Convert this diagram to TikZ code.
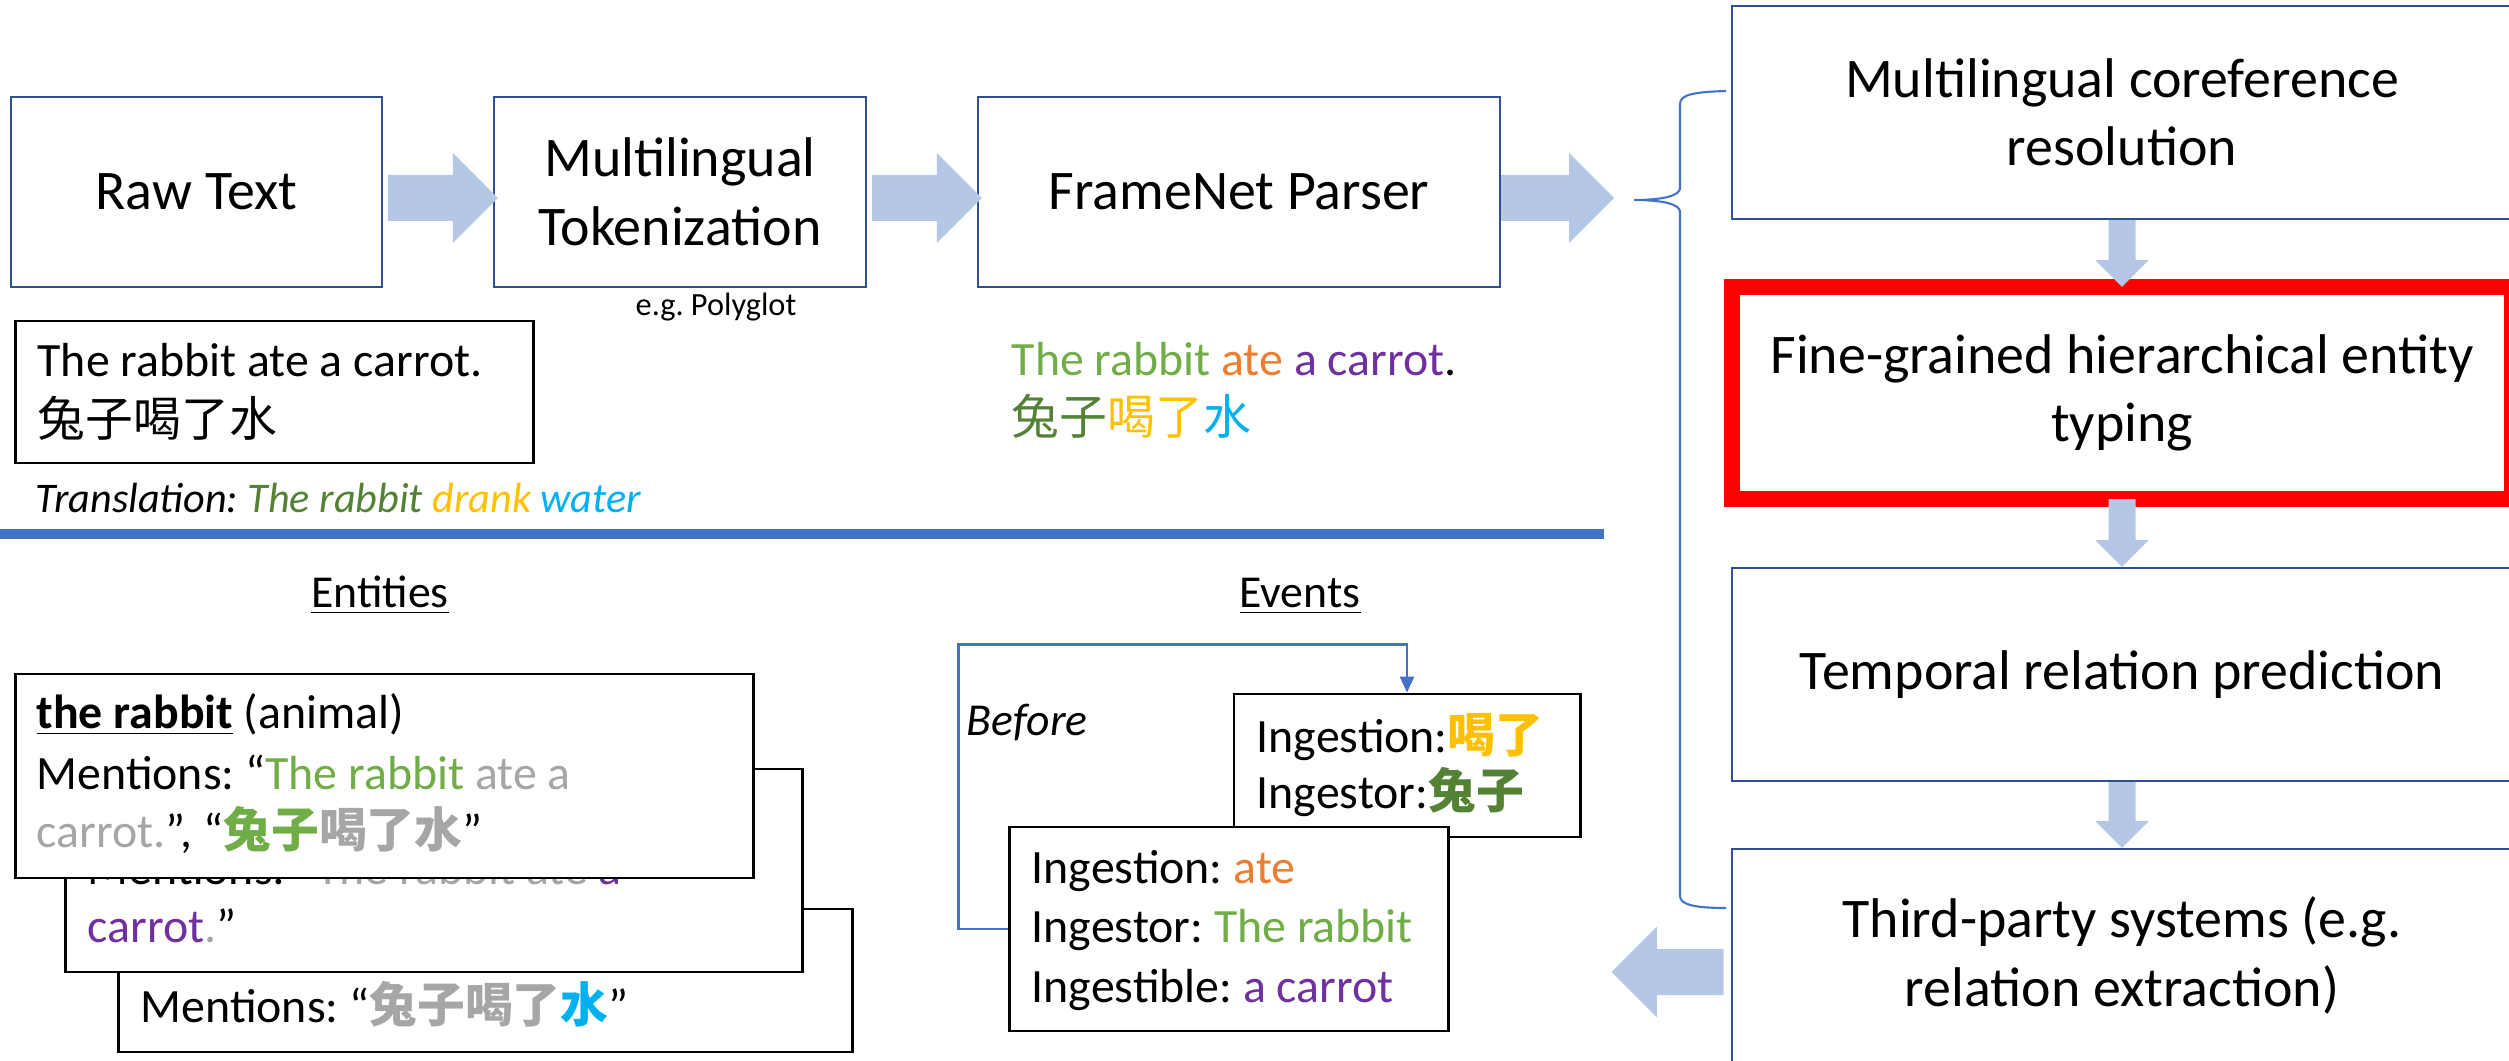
\documentclass[tikz,border=0pt]{standalone}
\usepackage{fontspec}
\setmainfont{Carlito}
\newfontfamily\cjk{Noto Sans CJK SC}
\usetikzlibrary{calc,arrows.meta}
\definecolor{cborder}{RGB}{47,82,143}
\definecolor{cfill}{RGB}{180,199,231}
\definecolor{cblue}{RGB}{68,114,196}
\definecolor{cgreen}{RGB}{112,173,71}
\definecolor{cdgreen}{RGB}{84,130,53}
\definecolor{corange}{RGB}{237,125,49}
\definecolor{cpurple}{RGB}{112,48,160}
\definecolor{cgold}{RGB}{255,192,0}
\definecolor{ccyan}{RGB}{0,176,240}
\definecolor{cgrey}{RGB}{166,166,166}
\definecolor{cred}{RGB}{255,0,0}
\newcommand\szbox{\fontsize{15.9pt}{19.5pt}\selectfont}
\newcommand\szmid{\fontsize{13.6pt}{17pt}\selectfont}
\newcommand\szsmall{\fontsize{9.2pt}{11pt}\selectfont}
\newcommand\sztr{\fontsize{12pt}{14pt}\selectfont}
\newcommand\szhead{\fontsize{13pt}{15pt}\selectfont}
\frenchspacing
% horizontal block arrow from #1 to tip #2
\newcommand\blockH[2]{\fill[cfill] let \p1=(#1), \p2=(#2), \n1={ifthenelse(\x2>\x1,1,-1)} in
 (\x1,{\y1+6.54pt}) -- ({\x2-(\n1)*12.8pt},{\y1+6.54pt}) -- ({\x2-(\n1)*12.8pt},{\y1+12.8pt}) -- (\x2,\y1)
 -- ({\x2-(\n1)*12.8pt},{\y1-12.8pt}) -- ({\x2-(\n1)*12.8pt},{\y1-6.54pt}) -- (\x1,{\y1-6.54pt}) -- cycle;}
% vertical block arrow from #1 to tip #2
\newcommand\blockV[2]{\fill[cfill] let \p1=(#1), \p2=(#2), \n1={ifthenelse(\y2>\y1,1,-1)} in
 ({\x1-3.84pt},\y1) -- ({\x1-3.84pt},{\y2-(\n1)*7.6pt}) -- ({\x1-7.6pt},{\y2-(\n1)*7.6pt}) -- (\x1,\y2)
 -- ({\x1+7.6pt},{\y2-(\n1)*7.6pt}) -- ({\x1+3.84pt},{\y2-(\n1)*7.6pt}) -- ({\x1+3.84pt},\y1) -- cycle;}
\begin{document}
\begin{tikzpicture}[x=0.01cm,y=-0.01cm,
  procbox/.style={draw=cborder, line width=0.6pt, fill=white, inner sep=0pt, align=center, font=\szbox},
  card/.style={draw=black, line width=0.8pt, fill=white, inner sep=0pt},
  txt/.style={anchor=base west, inner sep=0pt, font=\szmid},
  hdr/.style={anchor=base, inner sep=0pt, font=\szhead},
  conn/.style={draw=cblue, line width=0.6pt}]
\useasboundingbox (0,0) rectangle (2509,1061);
\clip (0,0) rectangle (2509,1061);
\fill[white] (0,0) rectangle (2509,1061);

% top pipeline
\node[procbox, minimum width=3.71cm, minimum height=1.90cm] (raw) at (196.5,192) {Raw Text};
\node[procbox, minimum width=3.72cm, minimum height=1.90cm] (tok) at (680,192) {Multilingual\\Tokenization};
\node[procbox, minimum width=5.22cm, minimum height=1.90cm] (fn) at (1239,192) {FrameNet Parser};
\node[anchor=base, inner sep=0pt, font=\szsmall] (poly) at (716,316) {e.g. Polyglot};

\coordinate (a1s) at ($(raw.east)+(5,6)$);
\coordinate (a1t) at ($(tok.west)+(5,6)$);
\coordinate (a2s) at ($(tok.east)+(5,6)$);
\coordinate (a2t) at ($(fn.west)+(5,6)$);
\coordinate (a3s) at ($(fn.east)+(0,6)$);
\coordinate (a3t) at ($(fn.east)+(113,6)$);
\blockH{a1s}{a1t}
\blockH{a2s}{a2t}
\blockH{a3s}{a3t}

% sample text
\node[card, minimum width=5.17cm, minimum height=1.42cm] (sample) at (274.5,392) {};
\node[txt] (s1) at (37,377) {The rabbit ate a carrot.};
\node[txt] (s2) at (37,437) {\cjk 兔子喝了水};
\node[txt, font=\sztr\itshape] (trans) at (35,512) {Translation: \textcolor{cdgreen}{The rabbit} \textcolor{cgold}{drank} \textcolor{ccyan}{water}};

% FrameNet output
\node[txt] (f1) at (1011,376) {\textcolor{cgreen}{The rabbit} \textcolor{corange}{ate} \textcolor{cpurple}{a carrot}.};
\node[txt] (f2) at (1011,435) {\cjk\textcolor{cdgreen}{兔子}\textcolor{cgold}{喝了}\textcolor{ccyan}{水}};

% separator
\draw[cblue, line width=2.85pt] (0,534) -- (1604,534);

% right column
\node[procbox, minimum width=7.80cm, minimum height=2.13cm] (b1) at (2122,112.5) {Multilingual coreference\\resolution};
\node[procbox, draw=cred, line width=4.55pt, minimum width=7.80cm, minimum height=2.12cm] (b2) at (2122,393) {Fine-grained hierarchical entity\\typing};
\node[procbox, minimum width=7.80cm, minimum height=2.13cm] (b3) at (2122,674.5) {Temporal relation prediction};
\node[procbox, minimum width=7.80cm, minimum height=2.13cm] (b4) at (2122,955.5) {Third-party systems (e.g.\\relation extraction)};

\coordinate (d1t) at ($(b2.north)+(0,8)$);
\coordinate (d2s) at ($(b2.south)+(0,-8)$);
\blockV{b1.south}{d1t}
\blockV{d2s}{b3.north}
\blockV{b3.south}{b4.north}
\coordinate (l1s) at ($(b4.west)+(-7,16.5)$);
\coordinate (l1t) at ($(b4.west)+(-119,16.5)$);
\blockH{l1s}{l1t}

% brace
\draw[conn] (1726,91) .. controls (1696,92) and (1680,94) .. (1680,104) -- (1680,188)
  .. controls (1680,196) and (1662,200) .. (1634,200)
  .. controls (1662,200) and (1680,204) .. (1680,212) -- (1680,896)
  .. controls (1680,905) and (1696,908) .. (1726,908);

% headers
\node[hdr] (hent) at (380,607) {\underline{Entities}};
\node[hdr] (hevt) at (1300,607) {\underline{Events}};

% entity cards
\node[card, minimum width=7.33cm, minimum height=1.43cm] (c3) at (485.5,980.5) {};
\node[txt] (c3a) at (140,1022) {Mentions: “{\cjk\bfseries\textcolor{cgrey}{兔子喝了}\textcolor{ccyan}{水}}”};
\node[card, minimum width=7.36cm, minimum height=2.03cm] (c2) at (434,870.5) {};
\node[txt] (c2a) at (87,884) {Mentions: “\textcolor{cgrey}{The rabbit ate} \textcolor{cpurple}{a}};
\node[txt] (c2b) at (87,942) {\textcolor{cpurple}{carrot}\textcolor{cgrey}{.}”};
\node[card, minimum width=7.37cm, minimum height=2.04cm] (c1) at (384.5,776) {};
\node[txt] (c1a) at (36,728) {\underline{\textbf{the rabbit}} (animal)};
\node[txt] (c1b) at (36,789) {Mentions: “\textcolor{cgreen}{The rabbit} \textcolor{cgrey}{ate a}};
\node[txt] (c1c) at (36,847) {\textcolor{cgrey}{carrot.}”, “{\cjk\bfseries\textcolor{cgreen}{兔子}\textcolor{cgrey}{喝了水}}”};

% event cards
\node[card, minimum width=3.46cm, minimum height=1.43cm] (e1) at (1407,765.5) {};
\node[txt] (e1a) at (1256,752) {Ingestion:{\cjk\bfseries\textcolor{cgold}{喝了}}};
\node[txt] (e1b) at (1256,808) {Ingestor:{\cjk\bfseries\textcolor{cdgreen}{兔子}}};
\node[card, minimum width=4.38cm, minimum height=2.04cm] (e2) at (1229,929) {};
\node[txt] (e2a) at (1031,883) {Ingestion: \textcolor{corange}{ate}};
\node[txt] (e2b) at (1031,942) {Ingestor: \textcolor{cgreen}{The rabbit}};
\node[txt] (e2c) at (1031,1002) {Ingestible: \textcolor{cpurple}{a carrot}};

\draw[conn, -{Triangle[width=4pt,length=4.5pt]}] (e2.west) -- ++(-50,0) |- ($(e1.north)+(0,-48)$) -- (e1.north);
\node[txt, font=\szhead\itshape] (before) at (966,735) {Before};
\end{tikzpicture}
\end{document}
